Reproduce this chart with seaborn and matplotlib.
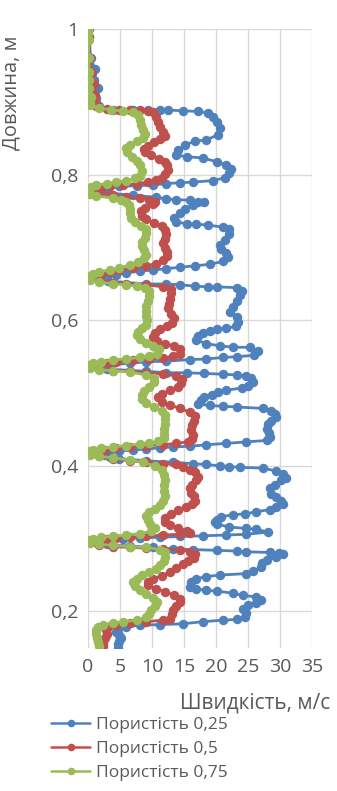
import matplotlib
matplotlib.use("Agg")
import matplotlib.pyplot as plt
from matplotlib.lines import Line2D
from matplotlib.ticker import FuncFormatter
import seaborn as sns
import pandas as pd

# ---------------- data ----------------
series_labels = ["Пористість 0,25", "Пористість 0,5", "Пористість 0,75"]
series_colors = ["#4F81BD", "#C0504D", "#9BBB59"]

blue_depth = [1.0, 0.99, 0.96, 0.946, 0.93, 0.919, 0.905, 0.897,
              0.894, 0.889, 0.889, 0.889, 0.889, 0.889, 0.888, 0.887, 0.885, 0.880, 0.873, 0.864, 0.855, 0.848, 0.846, 0.841, 0.834, 0.827, 0.825, 0.823, 0.818, 0.814, 0.808, 0.802, 0.796, 0.792, 0.790, 0.789, 0.788, 0.786, 0.785, 0.784,
              0.781, 0.778, 0.775,
              0.772, 0.769, 0.767, 0.766, 0.765, 0.763, 0.763, 0.759, 0.753, 0.748, 0.740, 0.735, 0.733, 0.732, 0.731, 0.728, 0.725, 0.718, 0.711, 0.704, 0.698, 0.692, 0.687, 0.681, 0.677, 0.675, 0.673, 0.671, 0.669, 0.668, 0.665, 0.663,
              0.660, 0.657, 0.654,
              0.650, 0.650, 0.649, 0.647, 0.646, 0.646, 0.645, 0.640, 0.635, 0.627, 0.619, 0.611, 0.604, 0.598, 0.592, 0.589, 0.588, 0.586, 0.582, 0.579, 0.573, 0.568, 0.565, 0.563, 0.563, 0.558, 0.552, 0.550, 0.549, 0.547, 0.546, 0.544, 0.543, 0.541,
              0.539, 0.536, 0.533,
              0.530, 0.528, 0.528, 0.527, 0.526, 0.525, 0.524, 0.521, 0.515, 0.510, 0.507, 0.504, 0.501, 0.498, 0.494, 0.490, 0.485, 0.483, 0.482, 0.481, 0.479, 0.476, 0.471, 0.467, 0.462, 0.457, 0.451, 0.445, 0.440, 0.435, 0.433, 0.431, 0.429, 0.427, 0.426, 0.425, 0.423, 0.422, 0.420,
              0.418, 0.415, 0.412,
              0.410, 0.407, 0.405, 0.403, 0.402, 0.400, 0.399, 0.398, 0.397, 0.393, 0.389, 0.384, 0.380, 0.374, 0.369, 0.362, 0.357, 0.352, 0.348, 0.343, 0.340, 0.337, 0.334, 0.333, 0.330, 0.326, 0.323, 0.320, 0.316, 0.314, 0.313, 0.309, 0.306, 0.305, 0.304, 0.303, 0.302, 0.301, 0.300,
              0.298, 0.295, 0.292,
              0.290, 0.288, 0.286, 0.285, 0.284, 0.283, 0.282, 0.281, 0.280, 0.279, 0.275, 0.271, 0.267, 0.261, 0.255, 0.252, 0.250, 0.248, 0.245, 0.240, 0.234, 0.231, 0.229, 0.228, 0.225, 0.222, 0.220, 0.216, 0.212, 0.209, 0.204, 0.198, 0.193, 0.189, 0.188, 0.186, 0.183, 0.182, 0.181, 0.179, 0.176, 0.172, 0.167, 0.164, 0.159, 0.155, 0.150]
blue_speed = [0.1, 0.2, 0.4, 1.1, 0.9, 1.6, 1.3, 1.2,
              1.8, 3.9, 7.0, 9.4, 11.2, 12.5, 14.8, 17.2, 18.75, 19.5, 20.1, 20.6, 20.3, 18.5, 16.7, 15.1, 14.1, 13.8, 15.4, 18.0, 20.1, 21.6, 22.4, 22.1, 21.4, 19.5, 16.4, 14.3, 12.2, 10.2, 7.6, 4.9,
              3.0, 2.4, 3.2,
              7.0, 10.7, 12.2, 13.8, 15.9, 17.2, 18.2, 16.4, 15.1, 14.3, 13.5, 13.8, 15.4, 16.9, 18.75, 21.1, 22.1, 22.0, 21.4, 20.6, 20.8, 21.6, 21.9, 21.1, 19.0, 16.7, 14.3, 12.2, 10.2, 8.1, 6.0, 4.4,
              3.0, 2.5, 3.2,
              9.1, 12.2, 14.3, 16.7, 18.75, 20.1, 23.2, 24.0, 23.8, 23.2, 22.7, 22.2, 23.2, 23.4, 23.1, 21.6, 20.1, 19.0, 18.0, 17.2, 16.8, 18.5, 20.6, 22.7, 25.3, 26.6, 26.0, 23.2, 21.1, 18.5, 15.9, 12.2, 9.1, 6.5,
              3.5, 2.6, 3.0,
              9.1, 12.2, 15.4, 18.2, 21.1, 23.2, 24.7, 25.5, 25.8, 25.0, 24.0, 21.6, 20.3, 19.3, 18.2, 17.6, 17.2, 19.0, 21.1, 23.2, 27.3, 28.6, 29.2, 29.4, 28.6, 28.1, 27.9, 28.3, 28.4, 27.9, 24.7, 21.6, 18.5, 15.9, 13.3, 11.2, 9.1, 7.0, 4.9,
              3.3, 2.6, 3.4,
              4.9, 9.1, 13.3, 16.4, 18.5, 20.6, 22.1, 23.7, 27.3, 29.4, 30.5, 31.0, 30.2, 29.2, 28.5, 28.6, 29.4, 30.2, 30.4, 29.4, 28.4, 26.3, 24.5, 22.7, 20.8, 20.1, 19.8, 20.1, 22.1, 24.7, 26.3, 28.1, 24.7, 21.6, 18.0, 14.3, 11.2, 8.1, 5.5,
              3.4, 2.6, 3.0,
              6.5, 10.2, 13.3, 16.4, 20.1, 23.2, 24.7, 28.4, 29.9, 30.5, 29.4, 27.9, 27.2, 27.1, 25.8, 24.7, 20.6, 18.5, 16.9, 16.1, 15.9, 16.9, 18.5, 20.1, 22.7, 24.2, 26.3, 27.1, 26.3, 25.0, 24.2, 24.7, 24.5, 23.2, 21.1, 18.0, 14.8, 11.2, 8.1, 6.0, 4.7, 4.4, 4.8, 5.1, 4.8, 4.7, 4.7]

red_depth = [1.0, 0.99, 0.96, 0.94, 0.925, 0.91, 0.898,
             0.894, 0.890, 0.889, 0.889, 0.889, 0.888, 0.886, 0.880, 0.873, 0.866, 0.859, 0.854, 0.849, 0.845, 0.840, 0.836, 0.831, 0.827, 0.822, 0.817, 0.813, 0.807, 0.801, 0.796, 0.793, 0.790, 0.788, 0.786, 0.784,
             0.782, 0.779, 0.776,
             0.772, 0.770, 0.768, 0.766, 0.763, 0.760, 0.755, 0.750, 0.744, 0.739, 0.734, 0.729, 0.724, 0.718, 0.712, 0.706, 0.700, 0.694, 0.688, 0.683, 0.678, 0.675, 0.672, 0.669, 0.666, 0.664,
             0.661, 0.658, 0.655,
             0.652, 0.650, 0.649, 0.646, 0.643, 0.637, 0.630, 0.623, 0.617, 0.609, 0.603, 0.597, 0.592, 0.588, 0.583, 0.577, 0.572, 0.568, 0.565, 0.560, 0.554, 0.551, 0.548, 0.547, 0.545, 0.543, 0.541,
             0.539, 0.536, 0.533,
             0.531, 0.530, 0.528, 0.526, 0.524, 0.519, 0.514, 0.508, 0.504, 0.499, 0.494, 0.488, 0.484, 0.479, 0.474, 0.468, 0.462, 0.456, 0.449, 0.443, 0.437, 0.433, 0.431, 0.429, 0.428, 0.426, 0.425, 0.422,
             0.419, 0.416, 0.413,
             0.410, 0.407, 0.405, 0.403, 0.402, 0.399, 0.395, 0.391, 0.385, 0.380, 0.374, 0.369, 0.363, 0.358, 0.352, 0.348, 0.343, 0.339, 0.334, 0.328, 0.323, 0.319, 0.315, 0.311, 0.308, 0.306, 0.305, 0.303, 0.302, 0.301, 0.299,
             0.297, 0.294, 0.291,
             0.289, 0.288, 0.287, 0.286, 0.285, 0.282, 0.279, 0.274, 0.269, 0.265, 0.260, 0.254, 0.249, 0.245, 0.240, 0.236, 0.231, 0.227, 0.222, 0.217, 0.213, 0.208, 0.202, 0.196, 0.190, 0.188, 0.186, 0.184, 0.182, 0.179, 0.174, 0.169, 0.164, 0.158, 0.152]
red_speed = [0.05, 0.1, 0.3, 0.6, 0.9, 1.1, 1.2,
             1.3, 2.9, 4.9, 6.5, 8.1, 9.4, 10.2, 10.7, 10.9, 11.2, 11.7, 12.0, 11.2, 10.3, 9.4, 8.7, 8.9, 9.9, 11.1, 12.0, 12.3, 12.5, 12.1, 11.5, 10.6, 9.4, 7.6, 5.5, 3.4,
             2.0, 1.5, 1.8,
             3.9, 6.0, 8.1, 9.6, 10.4, 10.1, 8.9, 8.3, 8.5, 9.1, 10.3, 11.5, 12.1, 12.2, 12.0, 11.7, 12.0, 12.3, 12.3, 11.7, 10.7, 9.1, 7.0, 4.9, 3.4, 2.1,
             1.6, 1.4, 1.7,
             3.9, 6.0, 9.1, 11.7, 12.9, 13.0, 12.8, 12.6, 12.5, 13.0, 13.4, 13.2, 12.3, 11.2, 10.4, 10.2, 10.8, 12.0, 13.4, 14.4, 14.3, 13.3, 11.7, 9.6, 7.0, 4.4, 2.9,
             1.8, 1.4, 1.7,
             3.9, 6.5, 9.1, 11.7, 13.8, 14.7, 14.6, 14.1, 12.8, 11.5, 10.9, 11.5, 12.8, 14.3, 15.9, 16.7, 16.5, 16.3, 16.1, 16.4, 16.3, 15.6, 13.8, 11.7, 9.1, 6.5, 4.4, 2.6,
             1.7, 1.4, 1.8,
             3.9, 6.5, 9.1, 11.7, 13.8, 14.8, 15.9, 16.7, 17.2, 16.9, 16.3, 15.9, 16.1, 16.5, 16.7, 16.3, 15.3, 14.1, 12.9, 12.0, 12.0, 12.8, 14.1, 15.4, 15.9, 14.3, 11.7, 9.1, 6.5, 4.4, 2.9,
             1.8, 1.4, 1.7,
             3.9, 6.5, 9.1, 11.7, 14.3, 15.9, 16.7, 16.5, 15.6, 14.8, 13.8, 12.8, 11.5, 10.2, 9.4, 9.4, 10.6, 12.1, 13.5, 14.3, 14.4, 13.8, 13.3, 13.2, 12.8, 11.7, 9.1, 6.5, 4.4, 3.1, 2.8, 2.9, 2.6, 2.4, 2.4]

green_depth = [1.0, 0.995, 0.985, 0.96, 0.941, 0.930, 0.919, 0.907, 0.900,
               0.896, 0.892, 0.889, 0.888, 0.886, 0.882, 0.875, 0.868, 0.862, 0.856, 0.850, 0.846, 0.841, 0.837, 0.831, 0.825, 0.819, 0.813, 0.805, 0.799, 0.795, 0.792, 0.790, 0.788, 0.786,
               0.783, 0.780, 0.777, 0.774, 0.771,
               0.768, 0.766, 0.763, 0.759, 0.753, 0.748, 0.740, 0.735, 0.730, 0.726, 0.720, 0.713, 0.708, 0.702, 0.696, 0.690, 0.685, 0.680, 0.676, 0.672, 0.669, 0.667, 0.664,
               0.661, 0.659, 0.656,
               0.653, 0.650, 0.649, 0.647, 0.644, 0.640, 0.634, 0.627, 0.620, 0.613, 0.606, 0.600, 0.594, 0.589, 0.584, 0.580, 0.574, 0.569, 0.565, 0.560, 0.554, 0.551, 0.549, 0.547, 0.546, 0.543, 0.541,
               0.539, 0.537, 0.534,
               0.532, 0.531, 0.529, 0.525, 0.521, 0.515, 0.509, 0.503, 0.498, 0.492, 0.487, 0.481, 0.476, 0.470, 0.464, 0.458, 0.451, 0.444, 0.439, 0.434, 0.431, 0.430, 0.428, 0.426, 0.424, 0.422,
               0.420, 0.418, 0.415,
               0.413, 0.411, 0.408, 0.405, 0.400, 0.394, 0.388, 0.381, 0.374, 0.366, 0.359, 0.352, 0.346, 0.341, 0.336, 0.331, 0.326, 0.320, 0.314, 0.310, 0.307, 0.305, 0.303, 0.302, 0.300,
               0.298, 0.296, 0.294,
               0.292, 0.291, 0.289, 0.288, 0.285, 0.281, 0.275, 0.270, 0.264, 0.259, 0.254, 0.250, 0.245, 0.240, 0.235, 0.229, 0.224, 0.218, 0.213, 0.207, 0.202, 0.196, 0.192, 0.188, 0.186, 0.184, 0.182, 0.179, 0.174, 0.169, 0.164, 0.158, 0.152]
green_speed = [0.0, 0.0, 0.1, 0.1, 0.2, 0.1, 0.2, 0.4, 0.3,
               0.3, 1.8, 3.6, 5.5, 7.0, 7.8, 8.1, 8.3, 8.6, 8.9, 8.6, 7.7, 6.6, 6.0, 6.1, 6.9, 7.7, 8.2, 8.5, 8.1, 7.3, 6.0, 4.4, 2.9, 1.3,
               0.5, 0.1, 0.0, 0.3, 1.2,
               3.9, 5.2, 6.0, 6.4, 6.5, 6.6, 6.8, 7.3, 8.3, 9.0, 9.1, 8.9, 8.5, 8.4, 8.7, 9.1, 8.7, 7.8, 6.5, 4.9, 3.4, 1.8, 0.8,
               0.2, 0.0, 0.3,
               1.8, 3.9, 6.0, 7.6, 8.9, 9.5, 9.5, 9.3, 9.1, 9.0, 9.0, 9.2, 9.0, 8.5, 7.8, 7.7, 8.2, 9.1, 10.2, 11.1, 10.8, 9.6, 8.1, 6.0, 3.9, 2.1, 0.8,
               0.2, 0.0, 0.3,
               1.8, 3.9, 6.5, 9.1, 10.3, 10.3, 9.5, 8.7, 8.4, 8.5, 9.0, 10.3, 11.5, 12.0, 12.1, 12.0, 11.9, 11.9, 11.8, 11.0, 9.6, 8.1, 6.0, 3.9, 2.1, 0.8,
               0.2, 0.0, 0.3,
               1.8, 3.9, 6.5, 8.6, 10.4, 11.5, 11.8, 12.0, 11.8, 11.9, 12.0, 11.7, 11.3, 10.4, 9.6, 9.1, 9.3, 9.7, 10.4, 9.9, 8.1, 6.0, 3.9, 2.1, 0.8,
               0.2, 0.0, 0.3,
               1.8, 3.9, 6.5, 9.1, 11.2, 12.1, 12.1, 11.8, 11.3, 10.6, 9.6, 8.5, 7.6, 7.1, 7.3, 8.1, 9.1, 10.2, 10.8, 10.4, 9.9, 9.6, 9.1, 7.6, 5.5, 3.9, 2.3, 1.6, 1.2, 1.2, 1.4, 1.6, 1.7]

x_ticks = [0, 5, 10, 15, 20, 25, 30, 35]
y_ticks = [0.2, 0.4, 0.6, 0.8, 1.0]
x_title = "Швидкість, м/с"
y_title = "Довжина, м"

# ---------------- styling ----------------
sns.set_theme(style="white")
plt.rcParams["font.family"] = ["Open Sans", "DejaVu Sans"]
text_color = "#595959"
grid_color = "#D9D9D9"

fig = plt.figure(figsize=(3.37, 7.91), dpi=100)
ax = fig.add_axes([0.261, 0.181, 0.665, 0.782])

series = [(blue_depth, blue_speed), (red_depth, red_speed), (green_depth, green_speed)]
for (d, s), lab, col in zip(series, series_labels, series_colors):
    df = pd.DataFrame({"speed": s, "depth": d})
    sns.lineplot(data=df, x="speed", y="depth", sort=False, estimator=None,
                 color=col, linewidth=2.0, marker="o", markersize=6.8,
                 markeredgewidth=0, markerfacecolor=col, ax=ax, label=lab,
                 legend=False)

ax.set_xlim(0, 35)
ax.set_ylim(0.15, 1.0)
ax.set_xticks(x_ticks)
ax.set_yticks(y_ticks)
ax.xaxis.set_major_formatter(FuncFormatter(lambda v, p: f"{v:g}"))
ax.yaxis.set_major_formatter(FuncFormatter(lambda v, p: f"{v:g}".replace(".", ",")))
ax.grid(True, color=grid_color, linewidth=1.0)
ax.set_axisbelow(True)
for sp in ax.spines.values():
    sp.set_visible(False)
ax.tick_params(axis="both", length=0, labelsize=14, colors=text_color, pad=7)

ax.set_xlabel(x_title, fontsize=15, color=text_color)
ax.set_ylabel(y_title, fontsize=14.5, color=text_color)
ax.xaxis.set_label_coords(0.746, -0.073)
ax.yaxis.set_label_coords(-0.295, 0.898)

handles = [Line2D([0], [0], color=c, linewidth=1.8, marker="o", markersize=5.5,
                  markeredgewidth=0) for c in series_colors]
fig.legend(handles, series_labels, loc="upper left", bbox_to_anchor=(0.15, 0.094),
           frameon=False, fontsize=12.5, handlelength=2.3, handletextpad=0.3,
           labelspacing=0.45, borderpad=0, borderaxespad=0, labelcolor=text_color)

fig.savefig("out.png", dpi=100)
